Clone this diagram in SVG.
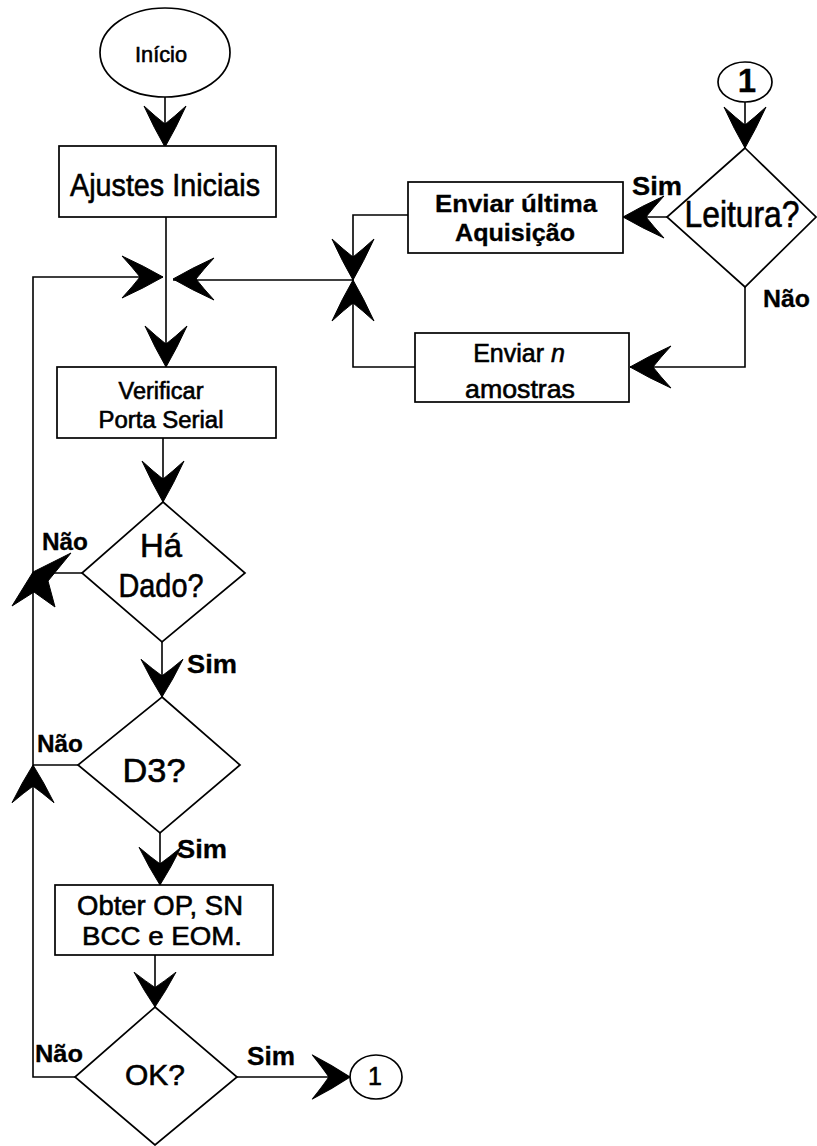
<svg xmlns="http://www.w3.org/2000/svg" xmlns:xlink="http://www.w3.org/1999/xlink" width="817" height="1146" viewBox="0 0 817 1146">
  <style>
    .shape { fill: #fff; stroke: #000; stroke-width: 1.7; }
    .wire { fill: none; stroke: #000; stroke-width: 1.6; }
    .head { fill: #000; stroke: #000; stroke-width: 1; stroke-linejoin: round; }
    text { font-family: "Liberation Sans", Arial, Helvetica, sans-serif; fill: #000; stroke: #000; stroke-width: 0.6; }
    .c { text-anchor: middle; }
    .b { font-weight: bold; stroke-width: 0.3; }
  </style>
  <defs>
    <!-- arrowhead pointing down, tip at the origin -->
    <path id="ah" d="M0,0 Q-11,-19 -21,-41 Q-9,-30 0,-23 Q9,-30 21,-41 Q11,-19 0,0 Z"/>
  </defs>

  <rect x="0" y="0" width="817" height="1146" fill="#fff"/>

  <!-- connectors -->
  <g id="connectors">
    <path class="wire" d="M165,97 V147"/>
    <path class="wire" d="M166,217 V367"/>
    <path class="wire" d="M163,438 V502"/>
    <path class="wire" d="M162,642 V697"/>
    <path class="wire" d="M160,833 V885"/>
    <path class="wire" d="M155,955 V1007"/>
    <path class="wire" d="M75,1077 H33 V277 H163"/>
    <path class="wire" d="M82,573 H33"/>
    <path class="wire" d="M78,765 H33"/>
    <path class="wire" d="M237,1077 H350"/>
    <path class="wire" d="M745,102 V148"/>
    <path class="wire" d="M667,217 H623"/>
    <path class="wire" d="M408,215 H353 V280"/>
    <path class="wire" d="M745,287 V367 H630"/>
    <path class="wire" d="M415,367 H353 V280"/>
    <path class="wire" d="M353,280 H173"/>

    <use href="#ah" class="head" transform="translate(165,147)"/>
    <use href="#ah" class="head" transform="translate(163,277) rotate(-90)"/>
    <use href="#ah" class="head" transform="translate(173,279) rotate(90)"/>
    <use href="#ah" class="head" transform="translate(166,367)"/>
    <use href="#ah" class="head" transform="translate(163,502)"/>
    <path class="head" d="M33,572 L71,553 L48,581 L55,607 L34,592 L12,606 Z"/>
    <use href="#ah" class="head" transform="translate(162,697) scale(1,0.92)"/>
    <use href="#ah" class="head" transform="translate(33,765) rotate(180) scale(1,0.92)"/>
    <use href="#ah" class="head" transform="translate(160,885) scale(1,0.92)"/>
    <use href="#ah" class="head" transform="translate(155,1007) scale(1,0.85)"/>
    <use href="#ah" class="head" transform="translate(350,1077) rotate(-90) scale(1.05,0.92)"/>
    <use href="#ah" class="head" transform="translate(745,148)"/>
    <use href="#ah" class="head" transform="translate(623,217) rotate(90)"/>
    <use href="#ah" class="head" transform="translate(630,367) rotate(90)"/>
    <use href="#ah" class="head" transform="translate(353,280)"/>
    <use href="#ah" class="head" transform="translate(353,280) rotate(180)"/>

    <!-- branch labels -->
    <text class="b" x="42" y="550" font-size="24" textLength="46" lengthAdjust="spacingAndGlyphs">Não</text>
    <text class="b" x="187" y="673" font-size="26" textLength="50" lengthAdjust="spacingAndGlyphs">Sim</text>
    <text class="b" x="37" y="752" font-size="24" textLength="46" lengthAdjust="spacingAndGlyphs">Não</text>
    <text class="b" x="177" y="858" font-size="26" textLength="50" lengthAdjust="spacingAndGlyphs">Sim</text>
    <text class="b" x="35" y="1062" font-size="24" textLength="48" lengthAdjust="spacingAndGlyphs">Não</text>
    <text class="b" x="247" y="1065" font-size="26" textLength="48" lengthAdjust="spacingAndGlyphs">Sim</text>
    <text class="b" x="632" y="195" font-size="26" textLength="50" lengthAdjust="spacingAndGlyphs">Sim</text>
    <text class="b" x="763" y="307" font-size="24" textLength="47" lengthAdjust="spacingAndGlyphs">Não</text>
  </g>

  <!-- nodes -->
  <g id="inicio">
    <ellipse class="shape" cx="165" cy="52.5" rx="65" ry="44.5"/>
    <text class="c" x="161" y="62" font-size="22" textLength="52" lengthAdjust="spacingAndGlyphs">Início</text>
  </g>

  <g id="ajustes">
    <rect class="shape" x="59" y="146" width="217" height="71"/>
    <text class="c" x="165" y="196" font-size="32" textLength="190" lengthAdjust="spacingAndGlyphs">Ajustes Iniciais</text>
  </g>

  <g id="verificar">
    <rect class="shape" x="57" y="367" width="219" height="71"/>
    <text class="c" x="161" y="399" font-size="23" textLength="85" lengthAdjust="spacingAndGlyphs">Verificar</text>
    <text class="c" x="161" y="428" font-size="23" textLength="125" lengthAdjust="spacingAndGlyphs">Porta Serial</text>
  </g>

  <g id="ha-dado">
    <polygon class="shape" points="163,502 245,573 162,642 82,573"/>
    <text class="c" x="161" y="557" font-size="33" textLength="42" lengthAdjust="spacingAndGlyphs">Há</text>
    <text class="c" x="161" y="597" font-size="33" textLength="85" lengthAdjust="spacingAndGlyphs">Dado?</text>
  </g>

  <g id="d3">
    <polygon class="shape" points="162,697 240,765 160,833 78,765"/>
    <text class="c" x="154" y="782" font-size="34" textLength="63" lengthAdjust="spacingAndGlyphs">D3?</text>
  </g>

  <g id="obter">
    <rect class="shape" x="55" y="885" width="218" height="70"/>
    <text class="c" x="160" y="915" font-size="27" textLength="166" lengthAdjust="spacingAndGlyphs">Obter OP, SN</text>
    <text class="c" x="162" y="945" font-size="26" textLength="160" lengthAdjust="spacingAndGlyphs">BCC e EOM.</text>
  </g>

  <g id="ok">
    <polygon class="shape" points="155,1007 237,1077 155,1145 75,1077"/>
    <text class="c" x="155" y="1085" font-size="30" textLength="60" lengthAdjust="spacingAndGlyphs">OK?</text>
  </g>

  <g id="conector-saida">
    <ellipse class="shape" cx="376" cy="1077" rx="26" ry="22"/>
    <text class="c" x="375" y="1085" font-size="25">1</text>
  </g>

  <g id="conector-entrada">
    <ellipse class="shape" cx="745" cy="82" rx="27" ry="20"/>
    <text class="c b" x="747" y="92" font-size="33">1</text>
  </g>

  <g id="leitura">
    <polygon class="shape" points="745,148 816,217 745,287 667,217"/>
    <text class="c" x="742" y="227" font-size="36" textLength="115" lengthAdjust="spacingAndGlyphs">Leitura?</text>
  </g>

  <g id="enviar-ultima">
    <rect class="shape" x="408" y="182" width="215" height="71"/>
    <text class="c b" x="516" y="212" font-size="24" textLength="162" lengthAdjust="spacingAndGlyphs">Enviar última</text>
    <text class="c b" x="515" y="241" font-size="24" textLength="120" lengthAdjust="spacingAndGlyphs">Aquisição</text>
  </g>

  <g id="enviar-n">
    <rect class="shape" x="415" y="333" width="214" height="69"/>
    <text class="c" x="519" y="362" font-size="25">Enviar <tspan font-style="italic">n</tspan></text>
    <text class="c" x="520" y="398" font-size="26" textLength="110" lengthAdjust="spacingAndGlyphs">amostras</text>
  </g>
</svg>
